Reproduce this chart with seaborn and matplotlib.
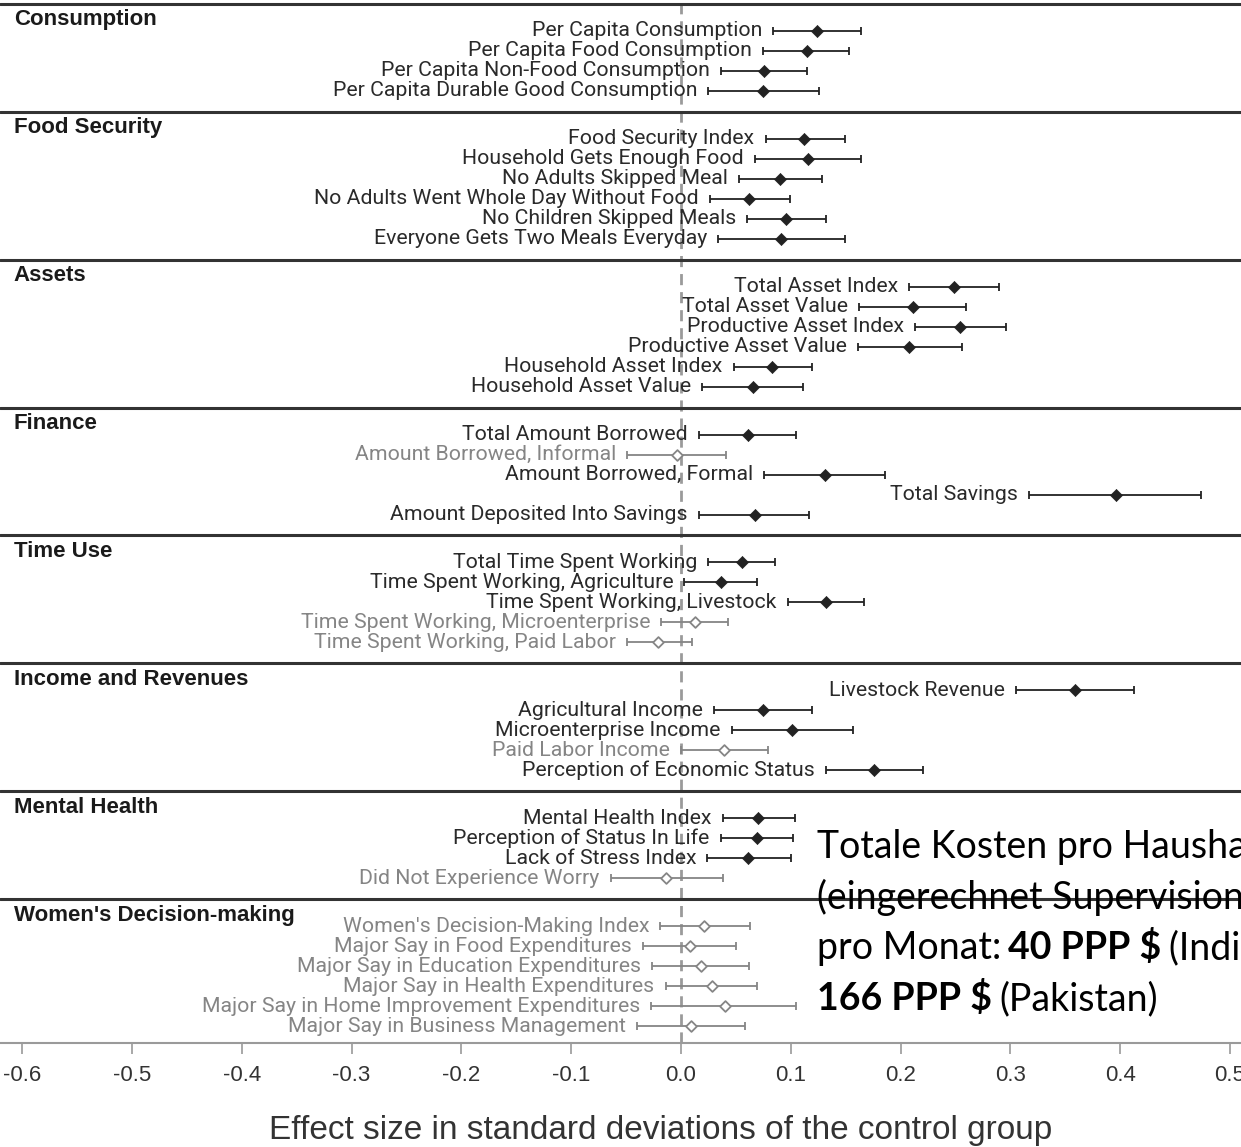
import numpy as np
import pandas as pd
import seaborn as sns
import matplotlib.pyplot as plt

# sections of the forest plot and how many outcomes each one has
sections = ["Consumption", "Food Security", "Assets", "Finance", "Time Use",
            "Income and Revenues", "Mental Health", "Women's Decision-making"]
section_sizes = [4, 6, 6, 5, 5, 5, 4, 6]

outcomes = [
    "Per Capita Consumption", "Per Capita Food Consumption",
    "Per Capita Non-Food Consumption", "Per Capita Durable Good Consumption",
    "Food Security Index", "Household Gets Enough Food", "No Adults Skipped Meal",
    "No Adults Went Whole Day Without Food", "No Children Skipped Meals",
    "Everyone Gets Two Meals Everyday",
    "Total Asset Index", "Total Asset Value", "Productive Asset Index",
    "Productive Asset Value", "Household Asset Index", "Household Asset Value",
    "Total Amount Borrowed", "Amount Borrowed, Informal", "Amount Borrowed, Formal",
    "Total Savings", "Amount Deposited Into Savings",
    "Total Time Spent Working", "Time Spent Working, Agriculture",
    "Time Spent Working, Livestock", "Time Spent Working, Microenterprise",
    "Time Spent Working, Paid Labor",
    "Livestock Revenue", "Agricultural Income", "Microenterprise Income",
    "Paid Labor Income", "Perception of Economic Status",
    "Mental Health Index", "Perception of Status In Life", "Lack of Stress Index",
    "Did Not Experience Worry",
    "Women's Decision-Making Index", "Major Say in Food Expenditures",
    "Major Say in Education Expenditures", "Major Say in Health Expenditures",
    "Major Say in Home Improvement Expenditures", "Major Say in Business Management",
]

estimate = [0.124, 0.115, 0.076, 0.075,
            0.112, 0.116, 0.090, 0.062, 0.096, 0.091,
            0.249, 0.211, 0.254, 0.208, 0.083, 0.066,
            0.061, -0.004, 0.131, 0.396, 0.067,
            0.056, 0.036, 0.132, 0.013, -0.021,
            0.359, 0.075, 0.101, 0.039, 0.176,
            0.070, 0.069, 0.061, -0.014,
            0.021, 0.008, 0.018, 0.028, 0.040, 0.009]

ci_low = [0.084, 0.075, 0.036, 0.025,
          0.077, 0.067, 0.053, 0.026, 0.060, 0.034,
          0.208, 0.162, 0.213, 0.161, 0.048, 0.019,
          0.016, -0.049, 0.076, 0.317, 0.016,
          0.025, 0.003, 0.097, -0.018, -0.049,
          0.305, 0.030, 0.046, 0.000, 0.132,
          0.038, 0.036, 0.024, -0.064,
          -0.019, -0.035, -0.026, -0.014, -0.027, -0.040]

ci_high = [0.164, 0.153, 0.115, 0.126,
           0.149, 0.164, 0.128, 0.099, 0.132, 0.149,
           0.290, 0.260, 0.296, 0.256, 0.119, 0.111,
           0.105, 0.041, 0.186, 0.474, 0.117,
           0.086, 0.069, 0.167, 0.043, 0.010,
           0.413, 0.119, 0.157, 0.079, 0.220,
           0.104, 0.102, 0.100, 0.038,
           0.063, 0.050, 0.062, 0.069, 0.105, 0.058]

significant = [True] * 17 + [False] + [True] * 6 + [False, False] + [True] * 3 + \
              [False, True] + [True] * 3 + [False] + [False] * 6

xticks = [-0.6, -0.5, -0.4, -0.3, -0.2, -0.1, 0.0, 0.1, 0.2, 0.3, 0.4, 0.5]

# the German cost note pasted over the chart, (text, bold?) pieces per line
note_lines = [
    [("Totale Kosten pro Haushalt", False)],
    [("(eingerechnet Supervision)", False)],
    [("pro Monat:", False), ("40 PPP $", True), ("(Indien) bis", False)],
    [("166 PPP $", True), ("(Pakistan)", False)],
]

# row layout: one unit per outcome, a little extra room under each section rule
row_y, sep_y, head_y = [], [], []
y = 0.2
for n in section_sizes:
    sep_y.append(y)
    head_y.append(y + 0.8)
    row_y += [y + 1.35 + i for i in range(n)]
    y = y + 1.35 + (n - 1) + 1.05
y_end = y - 0.2

df = pd.DataFrame({"outcome": outcomes, "estimate": estimate, "low": ci_low,
                   "high": ci_high, "significant": significant, "y": row_y})

sns.set_theme(style="white")
plt.rcParams["font.family"] = ["Roboto", "DejaVu Sans"]
plt.rcParams["axes.unicode_minus"] = False
arial = ["Liberation Sans", "DejaVu Sans"]

W, H = 1241, 1147
fig = plt.figure(figsize=(W / 100, H / 100), dpi=100)
ax = fig.add_axes([0, 1 - 1043 / H, 1, 1043 / H])

ax.axvline(0, color="#9a9a9a", lw=2, ls=(0, (4, 2.5)), zorder=1)
for s in sep_y:
    ax.axhline(s, color="#333333", lw=2.2, zorder=2)

dark, grey = "#222222", "#858585"
for sig, col in [(True, dark), (False, grey)]:
    d = df[df.significant == sig]
    ax.errorbar(d.estimate, d.y, xerr=[d.estimate - d.low, d.high - d.estimate],
                fmt="none", ecolor=col, elinewidth=1.3, capsize=3.2, capthick=1.3,
                zorder=3)

sns.scatterplot(data=df[df.significant], x="estimate", y="y", marker="D", s=38,
                color=dark, edgecolor=dark, ax=ax, zorder=4, legend=False)
sns.scatterplot(data=df[~df.significant], x="estimate", y="y", marker="D", s=30,
                color="white", edgecolor=grey, linewidth=1.3, ax=ax, zorder=4,
                legend=False)

# outcome labels sit just left of the lower CI cap
for _, r in df.iterrows():
    ax.annotate(r.outcome, xy=(r.low, r.y), xytext=(-8, 0), textcoords="offset points",
                ha="right", va="center", fontsize=15.3,
                color="#2a2a2a" if r.significant else grey)

for sec, hy in zip(sections, head_y):
    ax.text(0.011, hy, sec, transform=ax.get_yaxis_transform(), ha="left",
            va="center", fontsize=16, fontweight="bold", family=arial, color="#1a1a1a")

ax.set_xlim(-0.6202, 0.51)
ax.set_ylim(y_end, 0)
ax.set_yticks([])
ax.set_xticks(xticks)
ax.set_xticklabels([f"{t:.1f}" for t in xticks], family=arial, fontsize=16,
                   color="#333333")
ax.tick_params(axis="x", length=8, width=1.2, color="#9a9a9a", pad=8, bottom=True)
for side in ["top", "left", "right"]:
    ax.spines[side].set_visible(False)
ax.spines["bottom"].set_color("#9a9a9a")
ax.spines["bottom"].set_linewidth(1.5)
ax.set_ylabel("")
ax.set_xlabel("Effect size in standard deviations of the control group",
              family=arial, fontsize=24, color="#333333")
ax.xaxis.set_label_coords(661 / W, -(1130 - 1043) / 1043)
ax.xaxis.label.set_va("center")

# note: each line drawn piece by piece on a shared baseline
renderer = fig.canvas.get_renderer()
box_font = ["Lato", "DejaVu Sans"]
for i, pieces in enumerate(note_lines):
    x_px = 817
    base_px = 858 + i * 50.7
    for txt, is_bold in pieces:
        t = fig.text(x_px / W, 1 - base_px / H, txt, fontsize=27, family=box_font,
                     fontweight="bold" if is_bold else "normal", color="black",
                     ha="left", va="baseline")
        x_px = t.get_window_extent(renderer).x1 + 7

fig.savefig("out.png", dpi=100)
